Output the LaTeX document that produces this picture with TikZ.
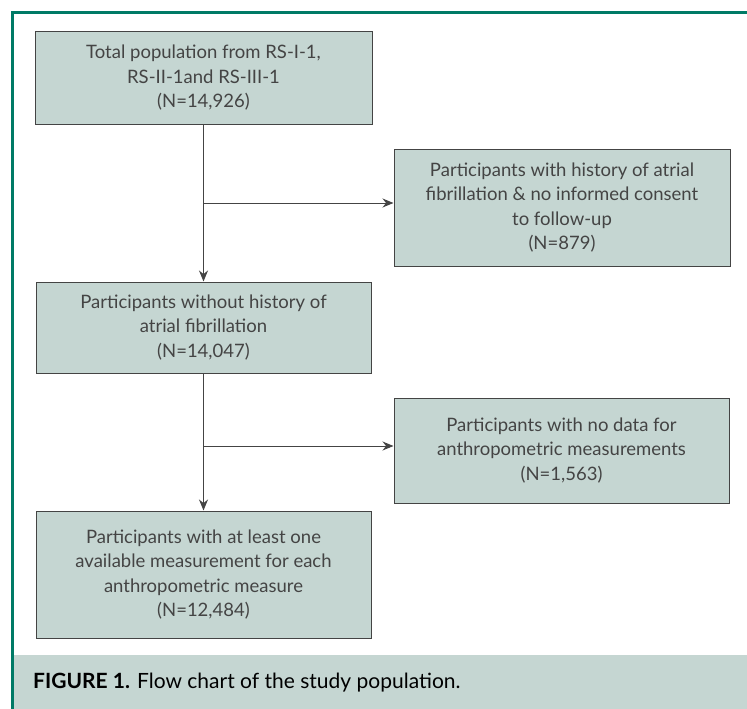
\documentclass[tikz,border=0pt]{standalone}
\usepackage{fontspec}
\setmainfont{Lato}
\usepackage{tikz}
\usetikzlibrary{arrows.meta,calc}
\definecolor{boxfill}{RGB}{197,214,210}
\definecolor{framegreen}{RGB}{0,122,102}
\definecolor{textgray}{RGB}{68,68,68}
\tikzset{flowbox/.style={draw=textgray,line width=1pt,fill=boxfill,text=textgray,align=center,inner sep=0pt,font=\fontsize{18.5}{24.5}\selectfont}}

\begin{document}
\begin{tikzpicture}[x=1pt,y=-1pt,>={Stealth[length=11pt,width=9pt]}]
\useasboundingbox (0,0) rectangle (747,709);
%\fill [white] (0,0) rectangle (747,709);
\fill [boxfill] (13,655) rectangle (747,709);
\draw [framegreen,line width=3pt] (747,13) -- (12,13) -- (12,709);
\node[flowbox,minimum width=337pt,minimum height=92pt] (total) at (203.5,78) {Total population from RS-I-1,\\RS-II-1and RS-III-1\\(N=14,926)};
\node[flowbox,minimum width=336pt,minimum height=117pt] (excl1) at (562,207.5) {Participants with history of atrial\\fibrillation \& no informed consent\\to follow-up\\(N=879)};
\node[flowbox,minimum width=335pt,minimum height=91pt] (noaf) at (203.5,327.5) {Participants without history of\\atrial fibrillation\\(N=14,047)};
\node[flowbox,minimum width=335pt,minimum height=105pt] (excl2) at (561.5,450.5) {Participants with no data for\\anthropometric measurements\\(N=1,563)};
\node[flowbox,minimum width=335pt,minimum height=127pt] (final) at (203.5,574.5) {Participants with at least one\\available measurement for each\\anthropometric measure\\(N=12,484)};
\coordinate (split1) at (203.5,203);
\coordinate (split2) at (203.5,446);
\draw[->,line width=1pt,textgray] (total) -- (noaf);
\draw[->,line width=1pt,textgray] (split1) -- (excl1.west |- split1);
\draw[->,line width=1pt,textgray] (noaf) -- (final);
\draw[->,line width=1pt,textgray] (split2) -- (excl2.west |- split2);
\node[anchor=west,text=black,inner sep=0pt,font=\fontsize{21}{24}\selectfont] (caption) at (33,683) {\textbf{FIGURE 1.} Flow chart of the study population.};
\end{tikzpicture}
\end{document}
